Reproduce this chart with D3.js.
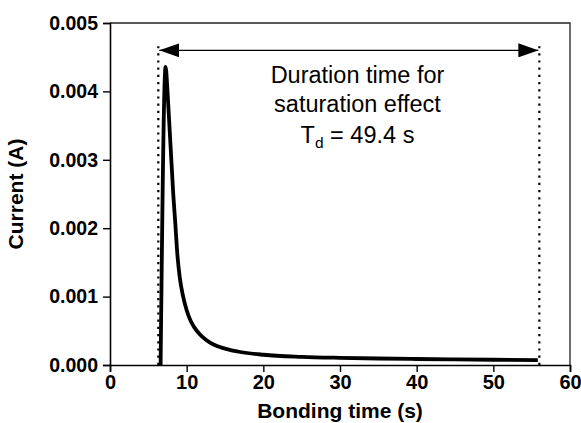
<!DOCTYPE html>
<html>
<head>
<meta charset="utf-8">
<script src="https://cdn.jsdelivr.net/npm/d3@7"></script>
<style>
  body { margin: 0; background: #fff; }
  svg { display: block; font-family: Arial, "Liberation Sans", sans-serif; }
</style>
</head>
<body>
<svg id="chart"></svg>
<script>
// bonding time (s) and current (A)
const times = [6.6, 7.25, 7.5, 7.75, 8.0, 8.25, 8.5, 8.8, 9.1, 9.5, 10.0, 10.5, 11.0, 11.7, 12.5, 13.5,
  15.0, 17.0, 20.0, 25.0, 30.0, 35.0, 40.0, 45.0, 50.0, 55.8];
const currents = [0, 0.00436, 0.0040, 0.0035, 0.0030, 0.0025, 0.0021, 0.0016, 0.00128, 0.00102, 0.00080,
  0.00065, 0.00055, 0.00045, 0.00037, 0.00030, 0.00024, 0.00019, 0.00015, 0.00012, 0.000105,
  0.000095, 0.000088, 0.000082, 0.000077, 0.000072];

const xTicks = [0, 10, 20, 30, 40, 50, 60];
const yTicks = [0, 0.001, 0.002, 0.003, 0.004, 0.005];
const markerTimes = [6.3, 56.0];   // dotted limits of the saturation window
const markerTop = 0.00466;
const arrowLevel = 0.0046;
const noteLines = ["Duration time for", "saturation effect"];

const width = 581, height = 423;
const margin = { top: 23, right: 11, bottom: 58, left: 110 };

const svg = d3.select("#chart").attr("width", width).attr("height", height);

const x = d3.scaleLinear().domain([0, 60]).range([margin.left, width - margin.right]);
const y = d3.scaleLinear().domain([0, 0.005]).range([height - margin.bottom, margin.top]);

const data = times.map((t, i) => ({ t, c: currents[i] }));

// frame (top + right)
svg.append("path")
  .attr("d", `M${x(0)},${y(0.005)}H${x(60)}V${y(0)}`)
  .attr("fill", "none").attr("stroke", "#222").attr("stroke-width", 1.3);

// x axis, minor then major ticks
const gx = svg.append("g").attr("transform", `translate(0,${y(0)})`);
gx.call(d3.axisBottom(x).tickValues(d3.range(5, 60, 10)).tickSize(4).tickFormat(""));
gx.call(d3.axisBottom(x).tickValues(xTicks).tickSize(7).tickPadding(3).tickFormat(d3.format("d")));
gx.selectAll(".domain").attr("stroke-width", 1.6);
gx.selectAll("line").attr("stroke-width", 1.4);
gx.selectAll("text").attr("font-size", 20).attr("font-weight", "bold").attr("fill", "#000")
  .attr("font-family", "Arial, 'Liberation Sans', sans-serif");

// y axis
const gy = svg.append("g").attr("transform", `translate(${x(0)},0)`);
gy.call(d3.axisLeft(y).tickValues(d3.range(0.0005, 0.005, 0.001)).tickSize(4).tickFormat(""));
gy.call(d3.axisLeft(y).tickValues(yTicks).tickSize(7).tickPadding(5).tickFormat(d3.format(".3f")));
gy.selectAll(".domain").attr("stroke-width", 1.6);
gy.selectAll("line").attr("stroke-width", 1.4);
gy.selectAll("text").attr("font-size", 19.5).attr("font-weight", "bold").attr("fill", "#000")
  .attr("font-family", "Arial, 'Liberation Sans', sans-serif");

// axis titles
svg.append("text")
  .attr("x", (x(0) + x(60)) / 2).attr("y", 418)
  .attr("text-anchor", "middle").attr("font-size", 21).attr("font-weight", "bold")
  .text("Bonding time (s)");

svg.append("text")
  .attr("transform", `translate(23,${(y(0) + y(0.005)) / 2}) rotate(-90)`)
  .attr("text-anchor", "middle").attr("font-size", 21).attr("font-weight", "bold")
  .text("Current (A)");

// dotted limits
svg.selectAll(".limit")
  .data(markerTimes)
  .enter()
  .append("line")
  .attr("class", "limit")
  .attr("x1", d => x(d)).attr("x2", d => x(d))
  .attr("y1", y(0)).attr("y2", y(markerTop))
  .attr("stroke", "#000").attr("stroke-width", 2.2)
  .attr("stroke-dasharray", "2.2,5");

// double arrow
const defs = svg.append("defs");
defs.append("marker")
  .attr("id", "head").attr("viewBox", "0 0 20 14")
  .attr("refX", 20).attr("refY", 7)
  .attr("markerWidth", 20).attr("markerHeight", 14)
  .attr("markerUnits", "userSpaceOnUse")
  .attr("orient", "auto-start-reverse")
  .append("path").attr("d", "M0,0L20,7L0,14Z").attr("fill", "#000");

svg.append("line")
  .attr("x1", x(markerTimes[0]) + 1).attr("x2", x(markerTimes[1]) - 1)
  .attr("y1", y(arrowLevel)).attr("y2", y(arrowLevel))
  .attr("stroke", "#000").attr("stroke-width", 1.4)
  .attr("marker-start", "url(#head)").attr("marker-end", "url(#head)");

// annotation
const cx = 357.5;
svg.selectAll(".note")
  .data(noteLines)
  .enter()
  .append("text")
  .attr("class", "note")
  .attr("x", cx).attr("y", (d, i) => 83 + i * 29)
  .attr("text-anchor", "middle").attr("font-size", 23.5)
  .text(d => d);

const td = svg.append("text")
  .attr("x", cx).attr("y", 143)
  .attr("text-anchor", "middle").attr("font-size", 23.5);
td.append("tspan").text("T");
td.append("tspan").attr("font-size", 15.5).attr("dy", 5).text("d");
td.append("tspan").attr("dy", -5).text(" = 49.4 s");

// current trace
const line = d3.line()
  .x(d => x(d.t))
  .y(d => y(d.c))
  .curve(d3.curveMonotoneX);

svg.append("path")
  .datum(data)
  .attr("d", line)
  .attr("fill", "none")
  .attr("stroke", "#000")
  .attr("stroke-width", 3.8)
  .attr("stroke-linejoin", "round");
</script>
</body>
</html>
